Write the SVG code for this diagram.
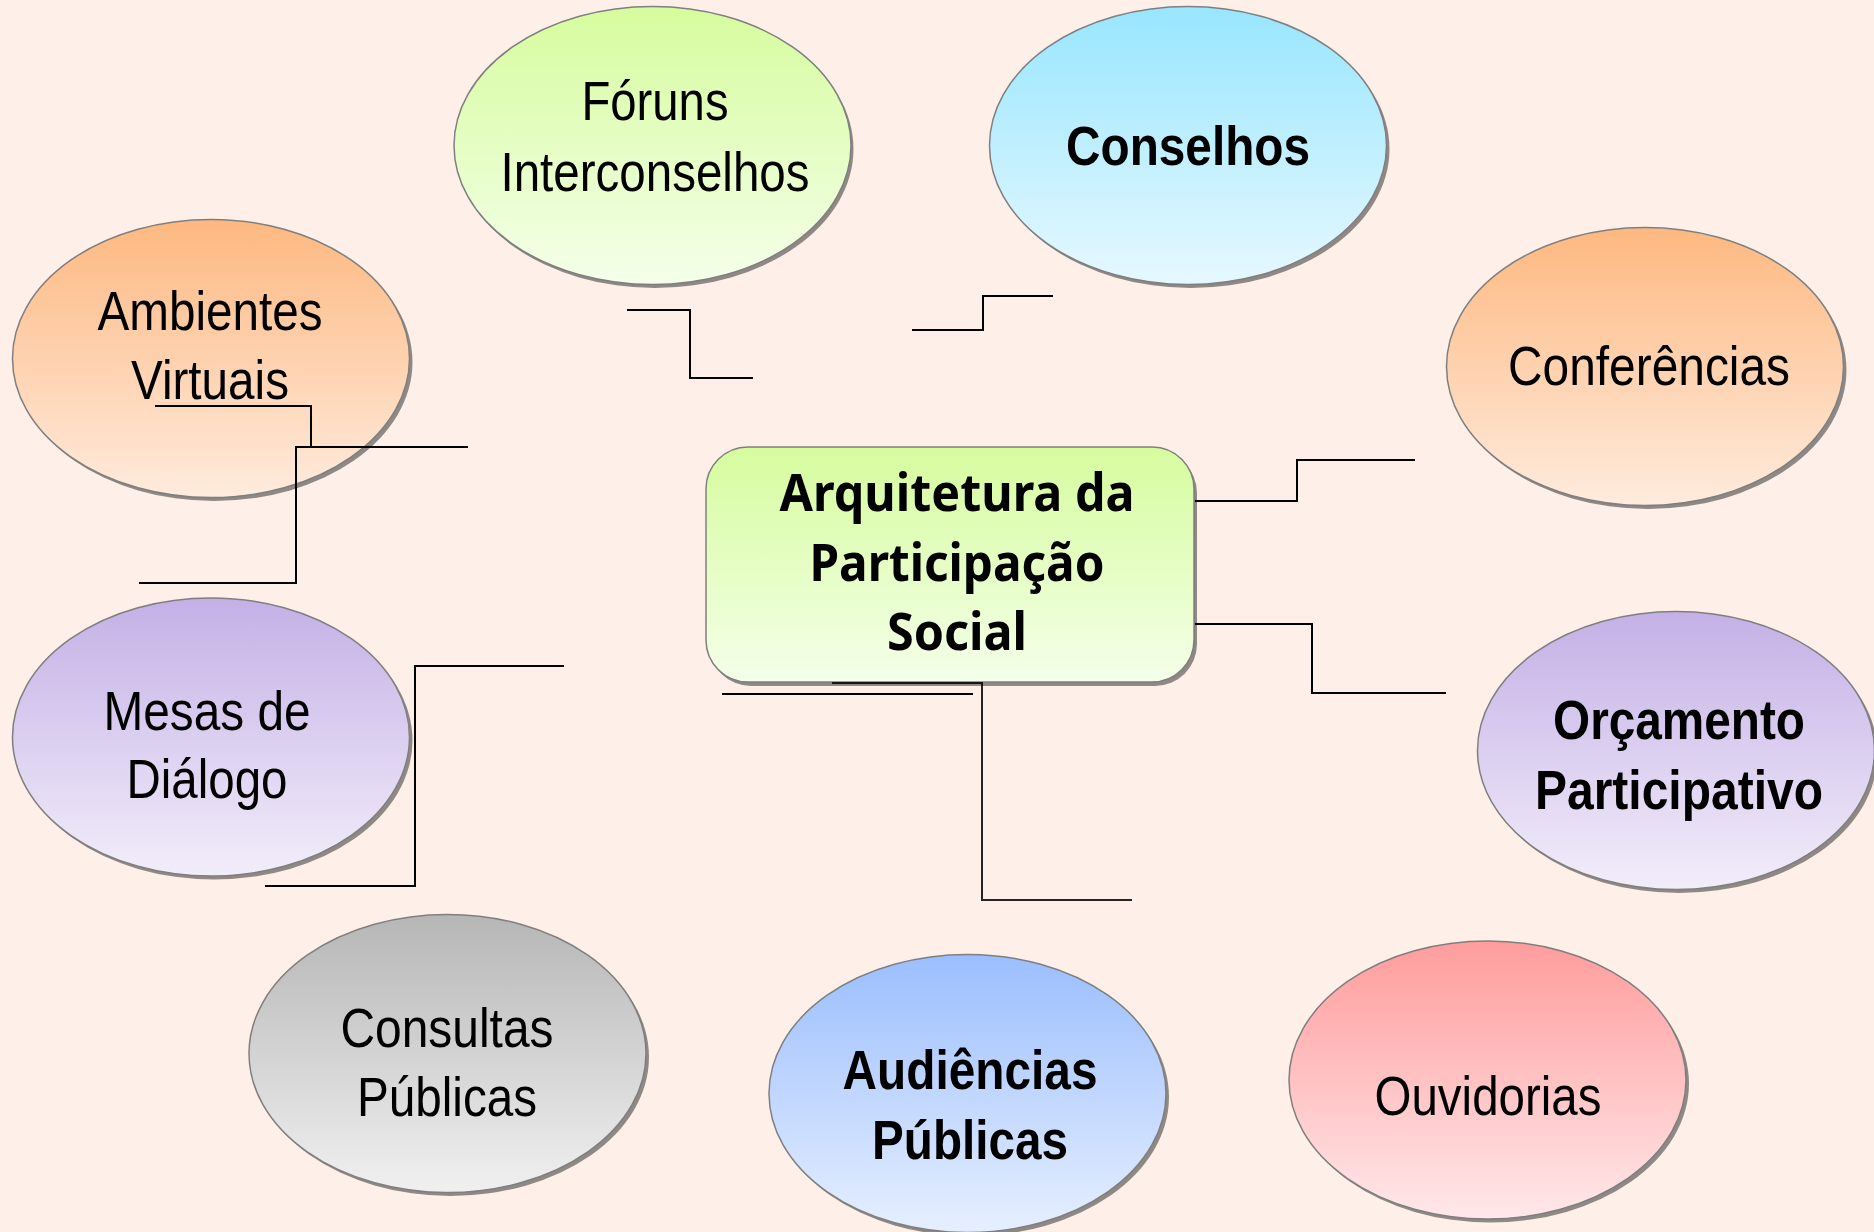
<svg xmlns="http://www.w3.org/2000/svg" width="1874" height="1232" viewBox="0 0 1874 1232">
<defs>
<linearGradient id="gGreen" x1="0" y1="0" x2="0" y2="1"><stop offset="0" stop-color="#D6FC9E"/><stop offset="1" stop-color="#F4FFE9"/></linearGradient>
<linearGradient id="gCyan" x1="0" y1="0" x2="0" y2="1"><stop offset="0" stop-color="#98E6FE"/><stop offset="1" stop-color="#E6F8FF"/></linearGradient>
<linearGradient id="gOrange" x1="0" y1="0" x2="0" y2="1"><stop offset="0" stop-color="#FDB880"/><stop offset="1" stop-color="#FFEBDD"/></linearGradient>
<linearGradient id="gPurple" x1="0" y1="0" x2="0" y2="1"><stop offset="0" stop-color="#C4B0E6"/><stop offset="1" stop-color="#F2EDFA"/></linearGradient>
<linearGradient id="gGray" x1="0" y1="0" x2="0" y2="1"><stop offset="0" stop-color="#B6B6B6"/><stop offset="1" stop-color="#F0F0F0"/></linearGradient>
<linearGradient id="gBlue" x1="0" y1="0" x2="0" y2="1"><stop offset="0" stop-color="#9BBEFE"/><stop offset="1" stop-color="#E6EFFF"/></linearGradient>
<linearGradient id="gRed" x1="0" y1="0" x2="0" y2="1"><stop offset="0" stop-color="#FF9C9C"/><stop offset="1" stop-color="#FFE8EA"/></linearGradient>
</defs>
<style>
.sh{fill:#8f8884}
.el{stroke:#7f7f7f;stroke-width:1.5}
.t{font-family:"Liberation Sans",Arial,sans-serif;font-size:56px;fill:#000;text-anchor:middle}
.b{font-weight:bold}
.c{font-family:"Noto Sans","Open Sans",sans-serif;font-size:52px;font-weight:bold;fill:#000;text-anchor:middle}
.ln{fill:none;stroke:#000;stroke-width:2}
</style>
<rect width="1874" height="1232" fill="#FEF0E8"/>

<g id="foruns">
<ellipse class="sh" cx="655" cy="149" rx="198.5" ry="139"/>
<ellipse class="el" cx="652.5" cy="145.5" rx="198.5" ry="139" fill="url(#gGreen)"/>
<text class="t" x="655" y="120" textLength="147" lengthAdjust="spacingAndGlyphs">Fóruns</text>
<text class="t" x="655" y="191" textLength="309" lengthAdjust="spacingAndGlyphs">Interconselhos</text>
</g>

<g id="conselhos">
<ellipse class="sh" cx="1191" cy="149" rx="198.5" ry="139"/>
<ellipse class="el" cx="1188" cy="145.5" rx="198.5" ry="139" fill="url(#gCyan)"/>
<text class="t b" x="1188" y="165" textLength="244" lengthAdjust="spacingAndGlyphs">Conselhos</text>
</g>

<g id="ambientes">
<ellipse class="sh" cx="214" cy="362" rx="198.5" ry="139"/>
<ellipse class="el" cx="211" cy="358.5" rx="198.5" ry="139" fill="url(#gOrange)"/>
<text class="t" x="210" y="330" textLength="225" lengthAdjust="spacingAndGlyphs">Ambientes</text>
<text class="t" x="210" y="399" textLength="158" lengthAdjust="spacingAndGlyphs">Virtuais</text>
</g>

<g id="conferencias">
<ellipse class="sh" cx="1648" cy="370" rx="198.5" ry="139"/>
<ellipse class="el" cx="1645" cy="366.5" rx="198.5" ry="139" fill="url(#gOrange)"/>
<text class="t" x="1649" y="385" textLength="282" lengthAdjust="spacingAndGlyphs">Conferências</text>
</g>

<g id="central">
<rect x="709" y="451" width="488" height="235" rx="42" fill="#8f8884"/>
<rect class="el" x="706" y="447" width="488" height="235" rx="42" fill="url(#gGreen)"/>
<text class="c" x="957" y="511" textLength="355" lengthAdjust="spacingAndGlyphs">Arquitetura da</text>
<text class="c" x="957" y="581" textLength="295" lengthAdjust="spacingAndGlyphs">Participação</text>
<text class="c" x="957" y="650" textLength="140" lengthAdjust="spacingAndGlyphs">Social</text>
</g>

<g id="mesas">
<ellipse class="sh" cx="214" cy="740.5" rx="198.5" ry="139"/>
<ellipse class="el" cx="211" cy="737" rx="198.5" ry="139" fill="url(#gPurple)"/>
<text class="t" x="207" y="730" textLength="207" lengthAdjust="spacingAndGlyphs">Mesas de</text>
<text class="t" x="207" y="798" textLength="161" lengthAdjust="spacingAndGlyphs">Diálogo</text>
</g>

<g id="orcamento">
<ellipse class="sh" cx="1679" cy="754" rx="198.5" ry="139"/>
<ellipse class="el" cx="1676" cy="750.5" rx="198.5" ry="139" fill="url(#gPurple)"/>
<text class="t b" x="1679" y="739" textLength="252" lengthAdjust="spacingAndGlyphs">Orçamento</text>
<text class="t b" x="1679" y="809" textLength="288" lengthAdjust="spacingAndGlyphs">Participativo</text>
</g>

<g id="consultas">
<ellipse class="sh" cx="450.5" cy="1057" rx="198.5" ry="139"/>
<ellipse class="el" cx="447.5" cy="1053.5" rx="198.5" ry="139" fill="url(#gGray)"/>
<text class="t" x="447" y="1047" textLength="213" lengthAdjust="spacingAndGlyphs">Consultas</text>
<text class="t" x="447" y="1116" textLength="180" lengthAdjust="spacingAndGlyphs">Públicas</text>
</g>

<g id="audiencias">
<ellipse class="sh" cx="970.5" cy="1097" rx="198.5" ry="139"/>
<ellipse class="el" cx="967.5" cy="1093.5" rx="198.5" ry="139" fill="url(#gBlue)"/>
<text class="t b" x="970" y="1089" textLength="255" lengthAdjust="spacingAndGlyphs">Audiências</text>
<text class="t b" x="970" y="1159" textLength="196" lengthAdjust="spacingAndGlyphs">Públicas</text>
</g>

<g id="ouvidorias">
<ellipse class="sh" cx="1490.5" cy="1083.5" rx="198.5" ry="139"/>
<ellipse class="el" cx="1487.5" cy="1080" rx="198.5" ry="139" fill="url(#gRed)"/>
<text class="t" x="1488" y="1115" textLength="227" lengthAdjust="spacingAndGlyphs">Ouvidorias</text>
</g>

<g id="connectors">
<polyline class="ln" points="627,310 690,310 690,378 753,378"/>
<polyline class="ln" points="912,330 983,330 983,296 1053,296"/>
<polyline class="ln" points="155,406 311,406 311,447"/>
<polyline class="ln" points="468,447 296,447 296,583 139,583"/>
<polyline class="ln" points="564,666 415,666 415,886 265,886"/>
<polyline class="ln" points="722,694 973,694"/>
<polyline class="ln" points="832,683 982,683 982,900 1132,900" stroke-opacity="0.85"/>
<polyline class="ln" points="1195,501 1297,501 1297,460 1415,460"/>
<polyline class="ln" points="1195,624 1312,624 1312,693 1446,693"/>
</g>
</svg>
